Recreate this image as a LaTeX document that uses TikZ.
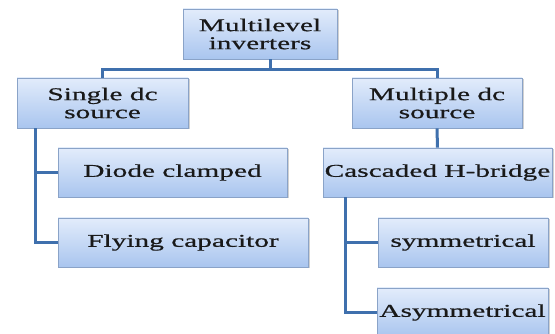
\documentclass[tikz,border=0pt]{standalone}
\usepackage{fontspec}
\newfontfamily\boxfont[FakeStretch=1.63, FakeBold=0.6]{Liberation Serif}
\usetikzlibrary{shadows}
\definecolor{linkblue}{HTML}{3F70AD}
\definecolor{boxtop}{HTML}{E2ECFB}
\definecolor{boxbottom}{HTML}{A9C5EF}
\definecolor{boxedge}{HTML}{8AA3C8}
\begin{document}
\begin{tikzpicture}[x = 1pt, y = -1pt,
            unit/.style = {draw = boxedge, line width = 0.8pt, top color = boxtop, bottom color = boxbottom,
                minimum height = 49pt, inner sep = 0pt, align = center, text = black!90,
                font = \boxfont\fontsize{18}{18}\selectfont,
                drop shadow = {shadow xshift = 1.5pt, shadow yshift = -1.5pt, fill = black!30, opacity = .6}},
            link/.style = {draw = linkblue, line width = 3pt}]
            \useasboundingbox (0,0) rectangle (555,334);
            \clip (0,0) rectangle (555,334);
            \node[unit, minimum width = 154pt, minimum height = 50pt] (mli) at (260,34) {Multilevel\\inverters};
            \node[unit, minimum width = 171pt, minimum height = 50pt] (sdc) at (102.5,103) {Single dc\\source};
            \node[unit, minimum width = 170pt, minimum height = 50pt] (mdc) at (437,103) {Multiple dc\\source};
            \node[unit, minimum width = 229pt] (dc) at (172.5,172.5) {Diode clamped};
            \node[unit, minimum width = 250pt] (fc) at (183,242.5) {Flying capacitor};
            \node[unit, minimum width = 229pt] (chb) at (437.5,172.5) {Cascaded H-bridge};
            \node[unit, minimum width = 170pt] (sym) at (463,242.5) {symmetrical};
            \node[unit, minimum width = 171pt] (asym) at (462.5,312.5) {Asymmetrical};
            \coordinate (hub) at (270,70);
            \coordinate (lrail) at (35,0);
            \coordinate (rrail) at (345,0);
            \draw[link] (mli.south -| hub) -- (hub);
            \draw[link] (sdc.north) |- (hub) -| (mdc.north);
            \draw[link] (sdc.south -| lrail) |- (dc.west);
            \draw[link] (sdc.south -| lrail) |- (fc.west);
            \draw[link] (mdc.south) -- (chb.north);
            \draw[link] (chb.south -| rrail) |- (sym.west);
            \draw[link] (chb.south -| rrail) |- (asym.west);
        \end{tikzpicture}
\end{document}
